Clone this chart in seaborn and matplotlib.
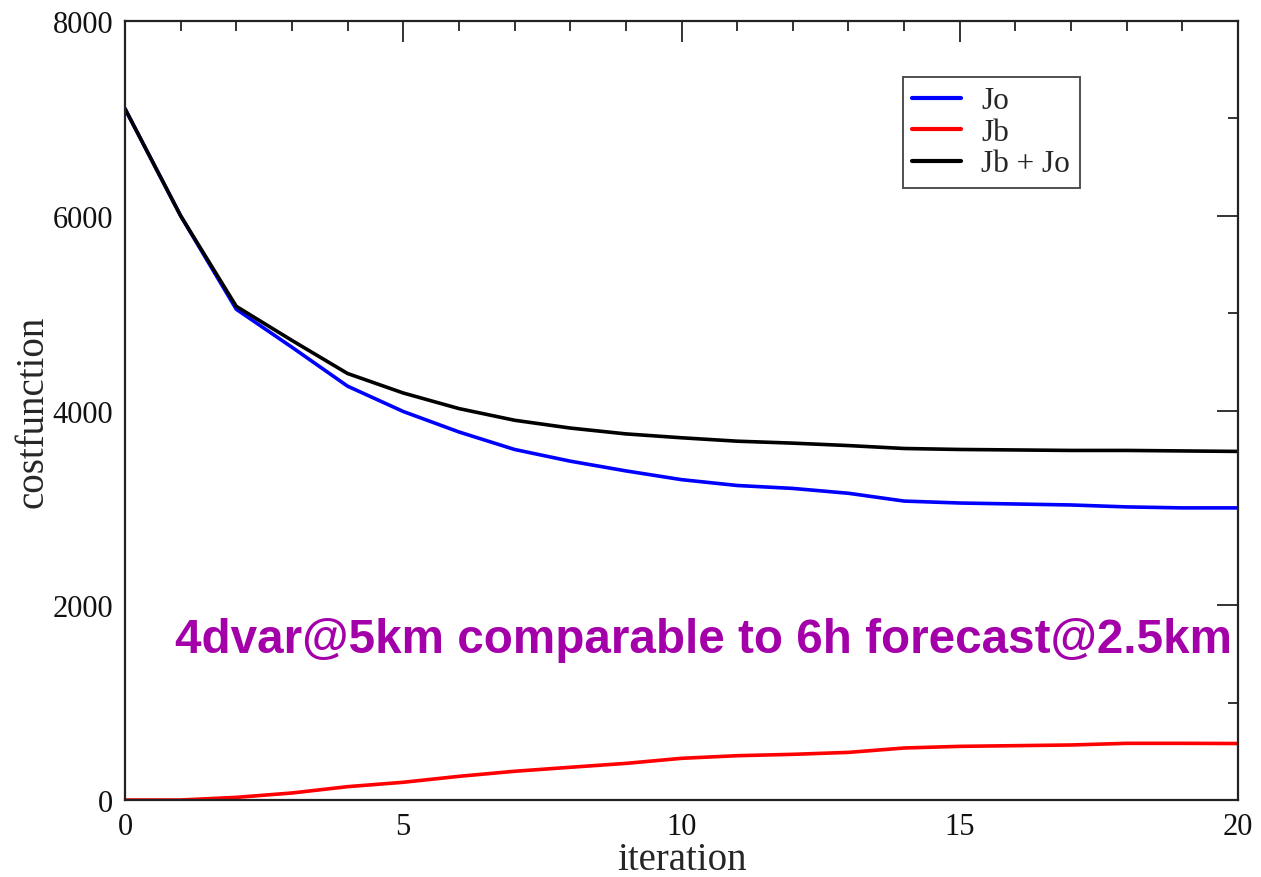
import numpy as np
import pandas as pd
import matplotlib
matplotlib.use("Agg")
import matplotlib.pyplot as plt
import seaborn as sns
from matplotlib.ticker import MultipleLocator

# Cost function components per minimisation iteration
iterations = list(range(21))
jo_values = [7100, 6000, 5040, 4650, 4250, 3990, 3780, 3600, 3480, 3380, 3290,
             3230, 3200, 3150, 3070, 3050, 3040, 3030, 3010, 3000, 3000]
jb_values = [0, 0, 27, 72, 137, 182, 243, 295, 336, 376, 428,
             455, 469, 489, 534, 551, 558, 565, 582, 582, 580]
total_values = [7100, 6000, 5070, 4720, 4380, 4180, 4020, 3900, 3820, 3760, 3720,
                3685, 3665, 3640, 3610, 3600, 3595, 3590, 3590, 3585, 3580]
series_names = ["Jo", "Jb", "Jb + Jo"]
series_colors = ["#0000ff", "#ff0000", "#000000"]

df = pd.DataFrame({
    "iteration": iterations * 3,
    "cost": jo_values + jb_values + total_values,
    "term": [series_names[0]] * 21 + [series_names[1]] * 21 + [series_names[2]] * 21,
})

sns.set_style("white")
plt.rcParams["font.family"] = ["Liberation Serif", "DejaVu Serif"]

fig = plt.figure(figsize=(12.61, 8.78), dpi=100)
ax = fig.add_axes([0.0991, 0.0877, 0.8827, 0.8872])

sns.lineplot(data=df, x="iteration", y="cost", hue="term",
             hue_order=series_names, palette=series_colors,
             linewidth=2.6, ax=ax)

ax.set_xlim(0, 20)
ax.set_ylim(0, 8000)
ax.xaxis.set_major_locator(MultipleLocator(5))
ax.xaxis.set_minor_locator(MultipleLocator(1))
ax.yaxis.set_major_locator(MultipleLocator(2000))
ax.yaxis.set_minor_locator(MultipleLocator(1000))
ax.tick_params(which="both", direction="in", top=True, right=True,
               color="#333333", width=1.4, labelsize=22, labelcolor="#111111")
ax.tick_params(axis="x", which="both", pad=9)
ax.tick_params(axis="y", which="both", pad=8.5)
ax.tick_params(which="major", length=15)
ax.tick_params(which="minor", length=7.5)
for side in ax.spines.values():
    side.set_color("#222222")
    side.set_linewidth(1.6)

ax.set_xlabel("iteration", fontsize=28, labelpad=0)
ax.set_ylabel("costfunction", fontsize=28, labelpad=1)

leg = ax.legend(loc="upper left", bbox_to_anchor=(0.699, 0.928),
                fontsize=22.5, frameon=True, fancybox=False,
                handlelength=1.55, handletextpad=0.66, borderpad=0.3,
                borderaxespad=0, labelspacing=0.08)
leg.get_frame().set_edgecolor("#222222")
leg.get_frame().set_linewidth(1.4)
for h in leg.get_lines():
    h.set_linewidth(3)

ax.text(0.0449, 0.190, "4dvar@5km comparable to 6h forecast@2.5km",
        transform=ax.transAxes, fontsize=34.3, fontweight="bold",
        color="#a400aa", family=["Liberation Sans", "DejaVu Sans"],
        ha="left", va="baseline")

fig.savefig("out.png", dpi=100)
